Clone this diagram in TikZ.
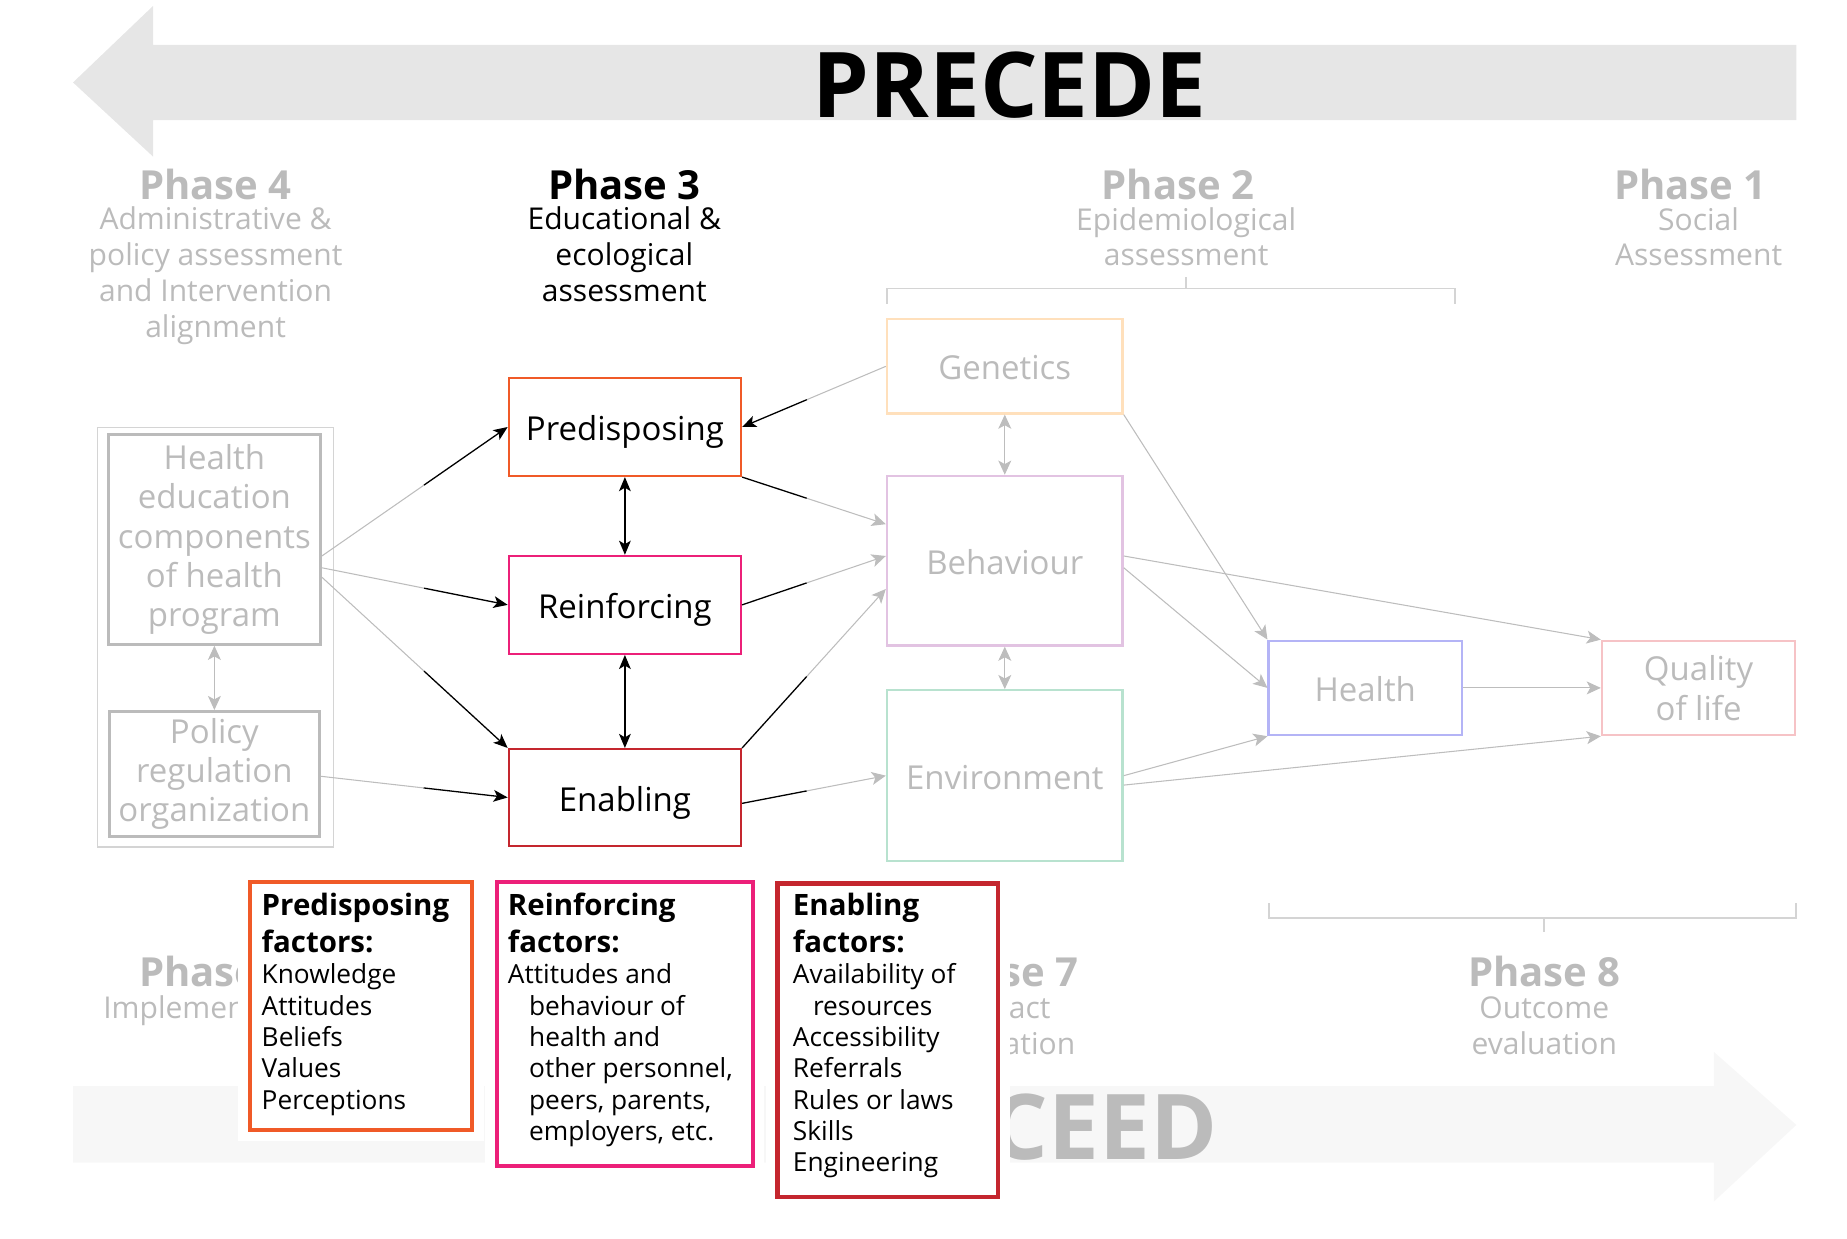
\documentclass[tikz,border=0pt]{standalone}
\usepackage{fontspec}
\setmainfont{Open Sans}
\usetikzlibrary{arrows.meta,calc,positioning}

\definecolor{fadetext}{HTML}{BBBBBB}
\definecolor{fadeline}{HTML}{BDBDBD}
\definecolor{bracketgray}{HTML}{D4D4D4}
\definecolor{precedefill}{HTML}{E6E6E6}
\definecolor{proceedfill}{HTML}{F7F7F7}
\definecolor{predcol}{HTML}{F05A28}
\definecolor{reincol}{HTML}{EC2079}
\definecolor{enabcol}{HTML}{C4262E}
\definecolor{genecol}{HTML}{FFE0BC}
\definecolor{behacol}{HTML}{E2C3E2}
\definecolor{envicol}{HTML}{B8E2CF}
\definecolor{healcol}{HTML}{B4B4F6}
\definecolor{qualcol}{HTML}{F6C3C6}

\tikzset{
  box/.style={draw, line width=2pt, inner sep=0pt, align=center, font=\fontsize{28}{33.5}\selectfont},
  oneline/.style={text height=25pt, text depth=2pt},
  phasetitle/.style={inner sep=0pt, font=\fontsize{34}{38}\bfseries\selectfont},
  phasesub/.style={inner sep=0pt, align=center, font=\fontsize{25.5}{30.5}\selectfont},
  gline/.style={draw=fadeline, line width=0.9pt},
  bline/.style={draw=black, line width=1.1pt},
  garrow/.style={gline, -{Stealth[length=12pt,width=11pt,inset=3pt]}},
  barrow/.style={bline, -{Stealth[length=12pt,width=10pt,inset=3pt]}},
  gboth/.style={gline, {Stealth[length=12pt,width=11pt,inset=3pt]}-{Stealth[length=12pt,width=11pt,inset=3pt]}},
  bboth/.style={bline, {Stealth[length=12pt,width=10pt,inset=3pt]}-{Stealth[length=12pt,width=10pt,inset=3pt]}},
  bracket/.style={draw=bracketgray, line width=1.5pt},
  factorbox/.style={draw, line width=3.5pt, fill=white, inner sep=0pt, preaction={draw=white, line width=20pt}},
  facthead/.style={inner sep=0pt, align=left, anchor=north west, font=\fontsize{25}{31}\bfseries\selectfont},
  factitems/.style={inner sep=0pt, align=left, anchor=north west, font=\fontsize{22.3}{26.6}\selectfont}
}

\newcommand{\twotone}[5]{%
  \draw[#1] (#4) -- ($(#4)!#3!(#5)$);
  \draw[#2] ($(#4)!#3!(#5)$) -- (#5);}

\begin{document}
\begin{tikzpicture}[x=1pt, y=-1pt]
\useasboundingbox (0,0) rectangle (1568,1051);

\fill[precedefill] (130,38) -- (1525,38) -- (1525,102) -- (130,102) -- (130,133) -- (62,70) -- (130,5) -- cycle;
\node[inner sep=0pt, font=\fontsize{77}{90}\bfseries\selectfont] (precede) at (857,72) {PRECEDE};
\fill[proceedfill] (62,922) -- (1455,922) -- (1455,893) -- (1525,955) -- (1455,1020) -- (1455,987) -- (62,987) -- cycle;
\node[inner sep=0pt, text=fadetext, font=\fontsize{77}{90}\bfseries\selectfont] (proceed) at (857,957) {PROCEED};

\node[phasetitle, text=fadetext] (ph4t) at (183,157) {Phase 4};
\node[phasesub, text=fadetext] (ph4s) at (183,234) {Administrative \&\\policy assessment\\and Intervention\\alignment};
\node[phasetitle] (ph3t) at (530,157) {Phase 3};
\node[phasesub] (ph3s) at (530,216) {Educational \&\\ecological\\assessment};
\node[phasetitle, text=fadetext] (ph2t) at (1000,157) {Phase 2};
\node[phasesub, text=fadetext] (ph2s) at (1007,201) {Epidemiological\\assessment};
\node[phasetitle, text=fadetext] (ph1t) at (1435,157) {Phase 1};
\node[phasesub, text=fadetext] (ph1s) at (1442,201) {Social\\Assessment};
\node[phasetitle, text=fadetext] (ph5t) at (183,825) {Phase 5};
\node[phasesub, text=fadetext] (ph5s) at (183,858) {Implementation};
\node[phasetitle, text=fadetext] (ph7t) at (851,825) {Phase 7};
\node[phasesub, text=fadetext] (ph7s) at (851,871) {Impact\\evaluation};
\node[phasetitle, text=fadetext] (ph8t) at (1311,825) {Phase 8};
\node[phasesub, text=fadetext] (ph8s) at (1311,871) {Outcome\\evaluation};

\draw[bracket] (753,258) -- (753,245) -- (1235,245) -- (1235,258);
\draw[bracket] (1007,245) -- (1007,235);
\draw[bracket] (1077,767) -- (1077,779) -- (1525,779) -- (1525,767);
\draw[bracket] (1311,779) -- (1311,791);

\node[draw=bracketgray, line width=1pt, minimum width=200pt, minimum height=356pt] (p4frame) at (183,541) {};
\node[box, draw=fadetext, line width=2.5pt, text=fadetext, minimum width=180pt, minimum height=178pt] (hed) at (182,458) {Health\\education\\components\\of health\\program};
\node[box, draw=fadetext, line width=2.5pt, text=fadetext, minimum width=178pt, minimum height=106pt] (pol) at (182,657) {Policy\\regulation\\organization};

\node[box, oneline, draw=predcol, minimum width=197pt, minimum height=83pt] (pre) at (530.5,362.5) {Predisposing};
\node[box, oneline, draw=reincol, minimum width=197pt, minimum height=83pt] (rei) at (530.5,513.5) {Reinforcing};
\node[box, oneline, draw=enabcol, minimum width=197pt, minimum height=82pt] (ena) at (530.5,677) {Enabling};

\node[box, oneline, draw=genecol, text=fadetext, minimum width=200pt, minimum height=80pt] (gen) at (853,311) {Genetics};
\node[box, oneline, draw=behacol, text=fadetext, minimum width=200pt, minimum height=144pt] (beh) at (853,476) {Behaviour};
\node[box, oneline, draw=envicol, text=fadetext, minimum width=200pt, minimum height=145pt] (env) at (853,658.5) {Environment};
\node[box, oneline, draw=healcol, text=fadetext, minimum width=164pt, minimum height=80pt] (hea) at (1159,584) {Health};
\node[box, draw=qualcol, text=fadetext, minimum width=164pt, minimum height=80pt] (qol) at (1442,584) {Quality\\of life};

\coordinate (hedA) at ([yshift=-14pt]hed.east);
\coordinate (hedB) at ([yshift=-24pt]hed.east);
\coordinate (hedC) at ([yshift=-32pt]hed.east);
\coordinate (polA) at ([yshift=-2pt]pol.east);
\coordinate (behA) at ([yshift=31pt]beh.west);
\coordinate (behB) at ([yshift=4pt]beh.west);
\coordinate (behC) at ([yshift=-24pt]beh.west);
\coordinate (enaA) at ([yshift=-5pt]ena.east);
\coordinate (behD) at ([yshift=-6pt]beh.east);
\coordinate (behE) at ([yshift=4pt]beh.east);
\coordinate (envA) at ([yshift=-8pt]env.east);

\twotone{gline}{barrow}{0.55}{hedA}{pre.west}
\twotone{gline}{barrow}{0.55}{hedB}{rei.west}
\twotone{gline}{barrow}{0.55}{hedC}{ena.north west}
\twotone{gline}{barrow}{0.55}{polA}{ena.west}
\twotone{gline}{barrow}{0.55}{gen.west}{pre.east}
\twotone{bline}{garrow}{0.45}{pre.south east}{behA}
\twotone{bline}{garrow}{0.45}{rei.east}{behB}
\twotone{bline}{garrow}{0.45}{ena.north east}{behC}
\twotone{bline}{garrow}{0.45}{enaA}{env.west}
\draw[garrow] (gen.south east) -- (hea.north west);
\draw[garrow] (behD) -- (hea.west);
\draw[garrow] (behE) -- (qol.north west);
\draw[garrow] (env.east) -- (hea.south west);
\draw[garrow] (envA) -- (qol.south west);
\draw[garrow] (hea.east) -- (qol.west);
\draw[bboth] (pre.south) -- (rei.north);
\draw[bboth] (rei.south) -- (ena.north);
\draw[gboth] (gen.south) -- (beh.north);
\draw[gboth] (beh.south) -- (env.north);
\draw[gboth] (hed.south) -- (pol.north);

\node[factorbox, draw=predcol, minimum width=189pt, minimum height=210pt] (pfbox) at (306.5,854) {};
\node[factorbox, draw=reincol, minimum width=217pt, minimum height=241pt] (rfbox) at (530.5,869.5) {};
\node[factorbox, draw=enabcol, minimum width=187pt, minimum height=266pt] (efbox) at (753.5,883) {};

\node[facthead] (pfhead) at (222,758) {Predisposing\\factors:};
\node[factitems] (pfitems) at (222,818) {Knowledge\\Attitudes\\Beliefs\\Values\\Perceptions};
\node[facthead] (rfhead) at (431,758) {Reinforcing\\factors:};
\node[factitems] (rfitems) at (431,818) {Attitudes and\\\hspace*{18pt}behaviour of\\\hspace*{18pt}health and\\\hspace*{18pt}other personnel,\\\hspace*{18pt}peers, parents,\\\hspace*{18pt}employers, etc.};
\node[facthead] (efhead) at (673,758) {Enabling\\factors:};
\node[factitems] (efitems) at (673,818) {Availability of\\\hspace*{17pt}resources\\Accessibility\\Referrals\\Rules or laws\\Skills\\Engineering};
\end{tikzpicture}
\end{document}
